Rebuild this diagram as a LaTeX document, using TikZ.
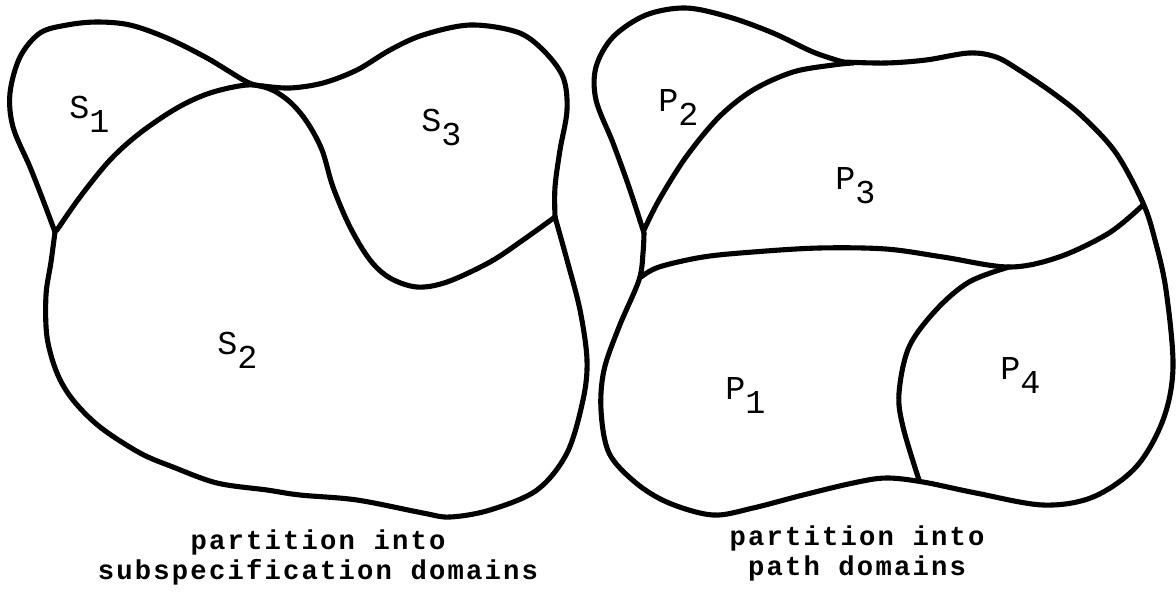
\documentclass[tikz,border=0pt]{standalone}
\usepackage{fontspec}
\newfontfamily\capfont[LetterSpace=8]{Liberation Mono}
\newfontfamily\labfont{Liberation Mono}
\newcommand\dlab[2]{#1\raisebox{-8pt}{#2}}
\begin{document}
\begin{tikzpicture}[x=0.02cm,y=-0.02cm,
  edge/.style={line width=2.9pt,line cap=round,line join=round},
  lab/.style={font=\labfont\fontsize{19pt}{22pt}\selectfont,inner sep=0pt,anchor=base west},
  captext/.style={font=\capfont\bfseries\fontsize{15.5pt}{18pt}\selectfont,inner sep=0pt,anchor=base}]
\useasboundingbox (0,0) rectangle (1176,596);

% ---------------- left figure ----------------
% S1 outer boundary
\draw[edge] plot[smooth,tension=0.55] coordinates {(55,232) (43,200) (30,167) (13,127) (10,93) (20,57) (40,33) (67,25) (97,22) (130,25) (167,38) (207,58) (247,82) (263,86)};
% S3 top and right boundary
\draw[edge] plot[smooth,tension=0.55] coordinates {(263,86) (290,88) (323,83) (357,70) (390,50) (423,35) (470,25) (517,32) (543,50) (563,77) (567,110) (560,150) (555,187) (555,217)};
% S1/S2 division continuing into S3 lower boundary
\draw[edge] plot[smooth,tension=0.55] coordinates {(57,230) (80,197) (110,160) (140,133) (177,108) (210,93) (247,85) (270,89) (290,102) (307,122) (322,150) (333,187) (350,227) (370,260) (390,278) (417,287) (447,282) (490,262) (523,240) (555,217)};
% S2 outer boundary
\draw[edge] plot[smooth,tension=0.55] coordinates {(55,232) (51,262) (46,295) (47,337) (57,373) (73,400) (100,427) (140,453) (173,467) (217,483) (267,490) (300,495) (357,500) (423,513) (450,517) (490,510) (537,490) (567,453) (583,400) (587,360) (580,310) (567,260) (555,217)};

\node[lab] (s1) at (69,118) {\dlab{S}{1}};
\node[lab] (s2) at (217,354) {\dlab{S}{2}};
\node[lab] (s3) at (421,131) {\dlab{S}{3}};

\node[captext] (c1a) at (318,549) {partition into};
\node[captext] (c1b) at (318,579) {subspecification domains};

% ---------------- right figure ----------------
% P2 outer boundary
\draw[edge] plot[smooth,tension=0.55] coordinates {(644,233) (629,187) (613,143) (596,100) (596,67) (613,37) (646,15) (686,8) (729,17) (773,33) (813,52) (843,62)};
% remaining outer boundary
\draw[edge] plot[smooth,tension=0.55] coordinates {(843,62) (886,63) (926,60) (969,53) (996,57) (1019,70) (1053,93) (1083,117) (1116,153) (1143,203) (1155,240) (1166,290) (1173,367) (1163,420) (1136,467) (1093,497) (1043,505) (976,493) (923,482) (886,478) (853,483) (803,495) (753,508) (713,515) (669,503) (636,483) (609,453) (601,410) (604,370) (619,327) (639,280) (643,253) (644,233)};
% P2/P3 division
\draw[edge] plot[smooth,tension=0.55] coordinates {(644,230) (659,200) (686,157) (719,117) (753,90) (793,72) (833,65) (853,63)};
% P1/P3 division
\draw[edge] plot[smooth,tension=0.55] coordinates {(641,277) (659,267) (703,257) (753,252) (819,248) (886,249) (943,257) (1009,267) (1059,257) (1109,233) (1143,205)};
% P4 boundary
\draw[edge] plot[smooth,tension=0.55] coordinates {(1009,267) (969,282) (936,310) (909,347) (899,393) (903,427) (919,480)};

\node[lab] (p1) at (725,399) {\dlab{P}{1}};
\node[lab] (p2) at (658,111) {\dlab{P}{2}};
\node[lab] (p3) at (835,189) {\dlab{P}{3}};
\node[lab] (p4) at (1000,379) {\dlab{P}{4}};

\node[captext] (c2a) at (857,545) {partition into};
\node[captext] (c2b) at (857,575) {path domains};
\end{tikzpicture}
\end{document}
